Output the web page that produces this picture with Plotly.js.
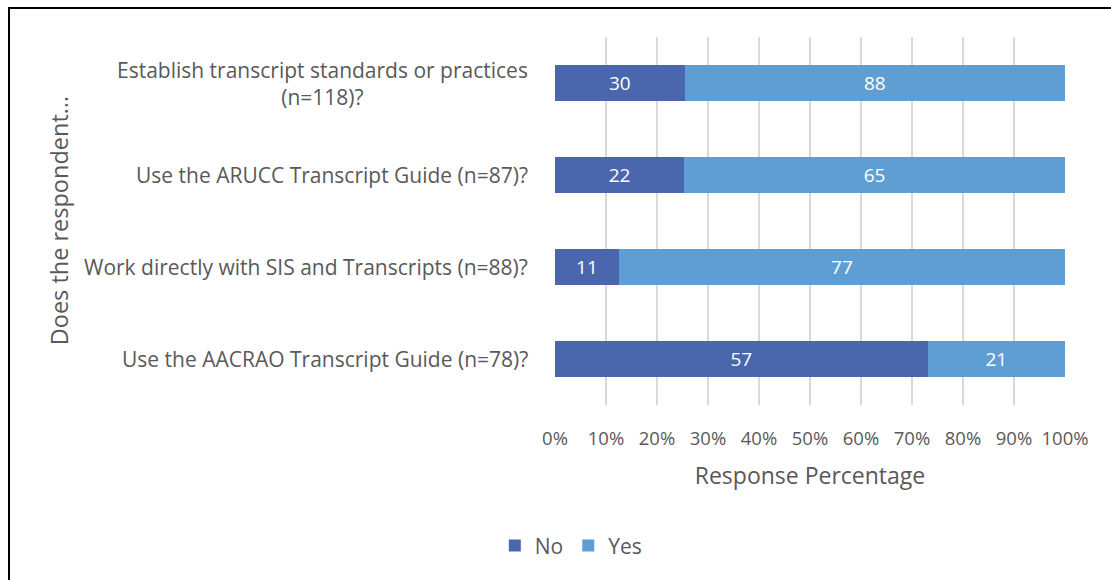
<!DOCTYPE html>
<html>
<head>
<meta charset="utf-8">
<script src="https://cdn.plot.ly/plotly-3.0.1.min.js"></script>
<style>
  html, body { margin: 0; padding: 0; background: #fff; }
  #wrap { position: relative; width: 1111px; height: 580px; overflow: hidden; }
  #chart { position: absolute; left: 0; top: 0; width: 1111px; height: 580px; }
  #frame { position: absolute; left: 8px; top: 7px; width: 1200px; height: 700px;
           border-top: 2px solid #000; border-left: 2px solid #000; pointer-events: none; }
</style>
</head>
<body>
<div id="wrap">
  <div id="chart"></div>
  <div id="frame"></div>
</div>
<script>
// Categories, top to bottom
const categories = ["c1", "c2", "c3", "c4"];
const categoryLabels = [
  "Establish transcript standards or practices<br>(n=118)?",
  "Use the ARUCC Transcript Guide (n=87)?",
  "Work directly with SIS and Transcripts (n=88)?",
  "Use the AACRAO Transcript Guide (n=78)?"
];
const noValues = [30, 22, 11, 57];
const yesValues = [88, 65, 77, 21];
const seriesNames = ["No", "Yes"];
const xTickVals = [0, 10, 20, 30, 40, 50, 60, 70, 80, 90, 100];
const xTickText = ["0%", "10%", "20%", "30%", "40%", "50%", "60%", "70%", "80%", "90%", "100%"];

const FONT = "Open Sans, Noto Sans, sans-serif";
const GREY = "#595959";

const traces = [
  {
    type: "bar", orientation: "h", name: seriesNames[0],
    y: categories, x: noValues, text: noValues.map(String),
    textposition: "inside", insidetextanchor: "middle",
    textfont: { family: FONT, size: 19, color: "#ffffff" },
    marker: { color: "#4a67ae", line: { width: 0 } },
    hoverinfo: "none"
  },
  {
    type: "bar", orientation: "h", name: seriesNames[1],
    y: categories, x: yesValues, text: yesValues.map(String),
    textposition: "inside", insidetextanchor: "middle",
    textfont: { family: FONT, size: 19, color: "#ffffff" },
    marker: { color: "#5f9ed2", line: { width: 0 } },
    hoverinfo: "none"
  }
];

const annotations = categories.map((c, i) => ({
  xref: "paper", yref: "y", x: -0.049, y: c,
  xanchor: "right", yanchor: "middle", align: "center",
  text: categoryLabels[i], showarrow: false,
  font: { family: FONT, size: 21, color: GREY }
}));
annotations.push({
  xref: "paper", yref: "paper", x: -0.972, y: 0.5,
  xanchor: "center", yanchor: "middle", textangle: -90,
  text: "Does the respondent…", showarrow: false,
  font: { family: FONT, size: 23.5, color: GREY }
});

const layout = {
  width: 1111, height: 580,
  margin: { l: 555, r: 46, t: 37, b: 175 },
  paper_bgcolor: "#ffffff", plot_bgcolor: "#ffffff",
  barmode: "stack", barnorm: "percent", bargap: 0.6,
  font: { family: FONT, color: GREY },
  showlegend: true,
  legend: {
    orientation: "h", x: 0.031, y: -0.383, xanchor: "center", yanchor: "middle",
    font: { family: FONT, size: 21, color: GREY }, traceorder: "normal",
    itemwidth: 30
  },
  xaxis: {
    range: [0, 100], tickvals: xTickVals, ticktext: xTickText,
    showgrid: true, gridcolor: "#d9d9d9", gridwidth: 1.5,
    zeroline: false, showline: false, ticks: "",
    ticklabelstandoff: 20,
    tickfont: { family: FONT, size: 18.5, color: GREY },
    title: { text: "Response Percentage", standoff: 19,
             font: { family: FONT, size: 23, color: GREY } },
    fixedrange: true
  },
  yaxis: {
    type: "category", autorange: "reversed",
    showticklabels: false, showgrid: false, zeroline: false, showline: false, ticks: "",
    fixedrange: true
  },
  annotations: annotations
};

Plotly.newPlot("chart", traces, layout, { displayModeBar: false, staticPlot: true });
</script>
</body>
</html>
